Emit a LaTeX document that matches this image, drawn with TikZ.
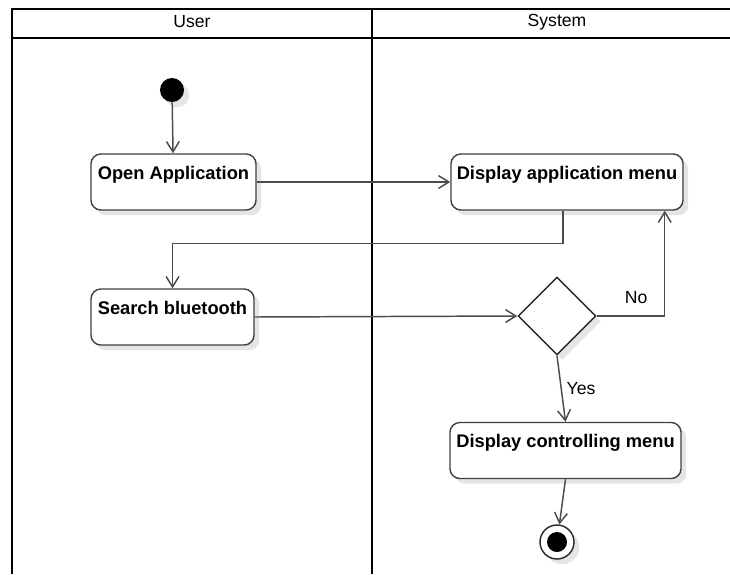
\documentclass[tikz,border=0pt]{standalone}
\usepackage{fontspec}
\setmainfont{Liberation Sans}
\usetikzlibrary{shapes.geometric,arrows.meta,shadows}

\begin{document}
\begin{tikzpicture}[x=0.025cm,y=-0.025cm,
    lane/.style={line width=1.4pt},
    lanetitle/.style={font=\fontsize{12.5}{14}\selectfont},
    shade/.style={drop shadow={shadow xshift=0.13cm,shadow yshift=-0.13cm,fill=black!10,opacity=1}},
    action/.style={rectangle,draw=black!75,line width=1pt,rounded corners=7pt,fill=white,shade,
      minimum height=1.4cm,text height=17.8pt,text depth=22pt,inner ysep=0pt,
      font=\fontsize{13}{15}\selectfont\bfseries},
    flow/.style={-{Straight Barb[length=2.6mm,width=3.2mm]},line width=1.05pt,draw=black!70},
    guard/.style={font=\fontsize{12.5}{14}\selectfont}]
  \useasboundingbox (0,0) rectangle (730,574);
  % swimlanes
  \draw[lane] (12,574) -- (12,9) -- (730,9);
  \draw[lane] (12,38) -- (730,38);
  \draw[lane] (372,9) -- (372,574);
  \node[lanetitle] (user) at (192,22) {User};
  \node[lanetitle] (system) at (557,22) {System};

  \node[circle,fill=black,minimum size=0.6cm,inner sep=0pt,shade] (start) at (172,90) {};
  \node[action,minimum width=4.125cm] (openapp) at (173.5,182) {Open Application};
  \node[action,minimum width=5.8cm] (appmenu) at (567,182) {Display application menu};
  \node[action,minimum width=4.075cm] (search) at (172.5,317) {Search bluetooth};
  \node[diamond,draw=black!85,line width=1pt,fill=white,minimum size=1.95cm,inner sep=0pt,shade]
    (found) at (557,316) {};
  \node[action,minimum width=5.775cm] (ctrlmenu) at (565.5,450.5) {Display controlling menu};
  \node[circle,draw=black!85,line width=1pt,fill=white,minimum size=0.85cm,inner sep=0pt,shade,
    path picture={\fill[black] (path picture bounding box.center) circle (0.25cm);}] (stop) at (557,542) {};

  \draw[flow] (start) -- (openapp);
  \draw[flow] (openapp) -- (appmenu);
  \draw[flow] ([xshift=-0.1cm]appmenu.south) -- ++(0,-0.825cm) -| (search.north);
  \draw[flow] (search.east) -- (found.west);
  \draw[flow] (found.east) -| node[guard,pos=0.29,above=5pt] {No} ([xshift=-0.475cm]appmenu.south east);
  \draw[flow] (found.south) -- node[guard,right] {Yes} (ctrlmenu.north);
  \draw[flow] (ctrlmenu.south) -- (stop);
\end{tikzpicture}
\end{document}
